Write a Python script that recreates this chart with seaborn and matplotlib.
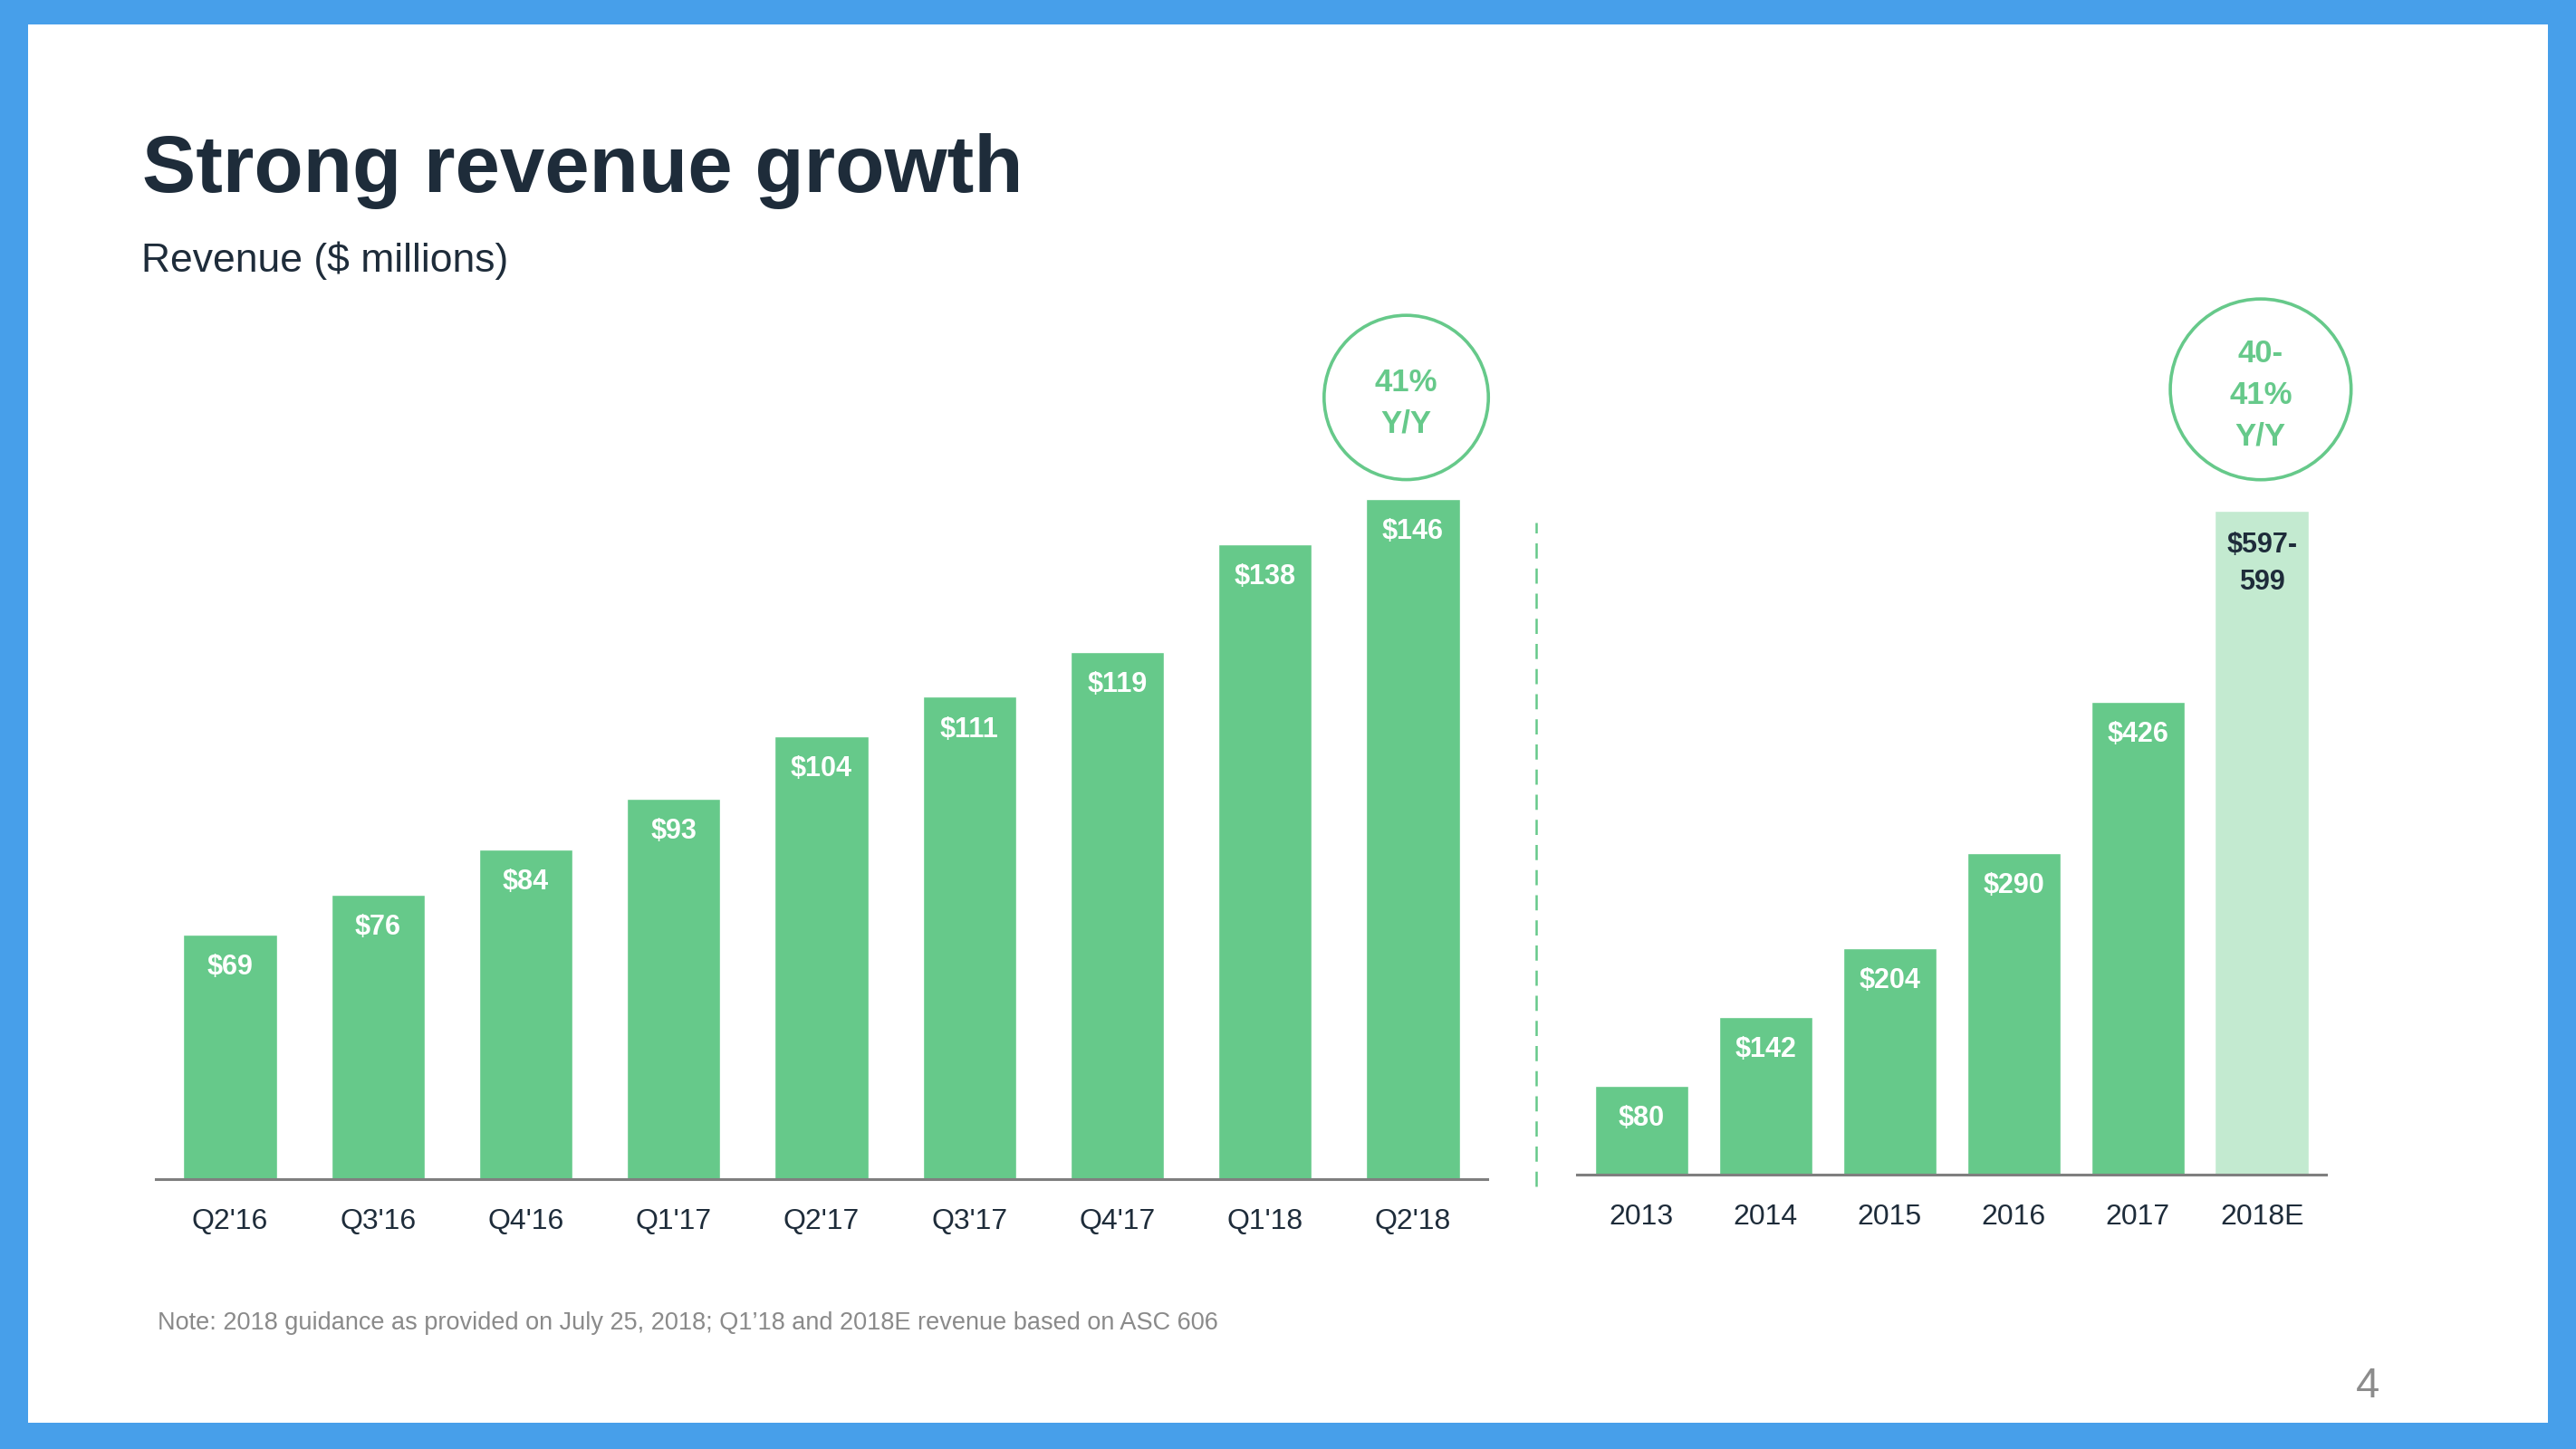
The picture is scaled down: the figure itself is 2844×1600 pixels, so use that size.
import matplotlib
matplotlib.use("Agg")
import matplotlib.pyplot as plt
from matplotlib.patches import Ellipse, Rectangle
from matplotlib.lines import Line2D
import seaborn as sns

# quarterly revenue ($M)
quarters = ["Q2'16", "Q3'16", "Q4'16", "Q1'17", "Q2'17", "Q3'17", "Q4'17", "Q1'18", "Q2'18"]
q_revenue = [69, 76, 84, 93, 104, 111, 119, 138, 146]
q_labels = ["$69", "$76", "$84", "$93", "$104", "$111", "$119", "$138", "$146"]

# annual revenue ($M), 2018E = midpoint of guidance
years = ["2013", "2014", "2015", "2016", "2017", "2018E"]
y_revenue = [80, 142, 204, 290, 426, 598]
y_labels = ["$80", "$142", "$204", "$290", "$426", "$597-\n599"]

GREEN = "#66C98A"
LIGHT_GREEN = "#C3EAD0"
NAVY = "#1E2C3A"
BLUE = "#479FEA"
AXIS_GRAY = "#7F7F7F"

sns.set_theme(style="white")
plt.rcParams["font.family"] = ["Liberation Sans", "DejaVu Sans"]

fig = plt.figure(figsize=(28.44, 16), dpi=100)
fig.patch.set_facecolor(BLUE)
# white slide area inside the blue frame
fig.add_artist(Rectangle((0.0109, 0.0181), 0.9782, 0.9649, transform=fig.transFigure,
                         facecolor="white", edgecolor="none", zorder=0))

fig.text(0.0552, 0.8675, "Strong revenue growth", fontsize=64, fontweight="bold",
         color=NAVY, va="baseline", ha="left")
fig.text(0.0549, 0.8125, "Revenue ($ millions)", fontsize=32, color=NAVY,
         va="baseline", ha="left")


def style_axis(ax):
    ax.set_facecolor("none")
    for side in ["top", "left", "right"]:
        ax.spines[side].set_visible(False)
    ax.spines["bottom"].set_color(AXIS_GRAY)
    ax.spines["bottom"].set_linewidth(2.2)
    ax.set_yticks([])
    ax.set_xlabel("")
    ax.set_ylabel("")
    ax.tick_params(axis="x", length=0, pad=23, labelsize=23, labelcolor=NAVY)


# ---- quarterly bars
ax1 = fig.add_axes([0.0606, 0.18625, 0.5166, 0.524])
sns.barplot(x=quarters, y=q_revenue, color=GREEN, saturation=1, width=0.633, ax=ax1)
ax1.set_xlim(-0.5, 8.5)
ax1.set_ylim(25.7, 160)
style_axis(ax1)
for i, (v, lab) in enumerate(zip(q_revenue, q_labels)):
    ax1.annotate(lab, xy=(i, v), xytext=(0, -26), textcoords="offset points",
                 ha="center", va="center", color="white", fontsize=22, fontweight="bold")

# ---- annual bars
ax2 = fig.add_axes([0.6122, 0.1894, 0.2909, 0.536])
bar_colors = [GREEN] * (len(years) - 1) + [LIGHT_GREEN]
sns.barplot(x=years, y=y_revenue, hue=years, palette=bar_colors, saturation=1,
            width=0.755, legend=False, ax=ax2)
ax2.set_xlim(-0.52, 5.52)
ax2.set_ylim(0, 700)
style_axis(ax2)
for i, (v, lab) in enumerate(zip(y_revenue, y_labels)):
    last = i == len(years) - 1
    ax2.annotate(lab, xy=(i, v), xytext=(0, -42 if last else -26), textcoords="offset points",
                 ha="center", va="center", color=NAVY if last else "white",
                 fontsize=22, fontweight="bold", linespacing=1.45)

# dashed divider
fig.add_artist(Line2D([0.5963, 0.5963], [0.1815, 0.6395], transform=fig.transFigure,
                      color=GREEN, lw=1.8, ls=(0, (6.7, 4.4))))

# growth call-out circles
for (cx, cy, r_px, txt) in [(0.5459, 0.7257, 90.7, "41%\nY/Y"),
                            (0.8776, 0.7313, 99.8, "40-\n41%\nY/Y")]:
    fig.add_artist(Ellipse((cx, cy), 2 * r_px / 2844, 2 * r_px / 1600,
                           transform=fig.transFigure, facecolor="none",
                           edgecolor=GREEN, lw=2.6))
    fig.text(cx, cy - 0.004, txt, ha="center", va="center", color=GREEN, fontsize=25,
             fontweight="bold", linespacing=1.5)

fig.text(0.0612, 0.0825,
         "Note: 2018 guidance as provided on July 25, 2018; Q1\u201918 and 2018E revenue based on ASC 606",
         fontsize=19.5, color="#8A8A8A", ha="left", va="baseline")
fig.text(0.919, 0.0356, "4", fontsize=34, color="#8C8C8C", ha="center", va="baseline")

fig.savefig("out.png", dpi=100, facecolor=fig.get_facecolor())
